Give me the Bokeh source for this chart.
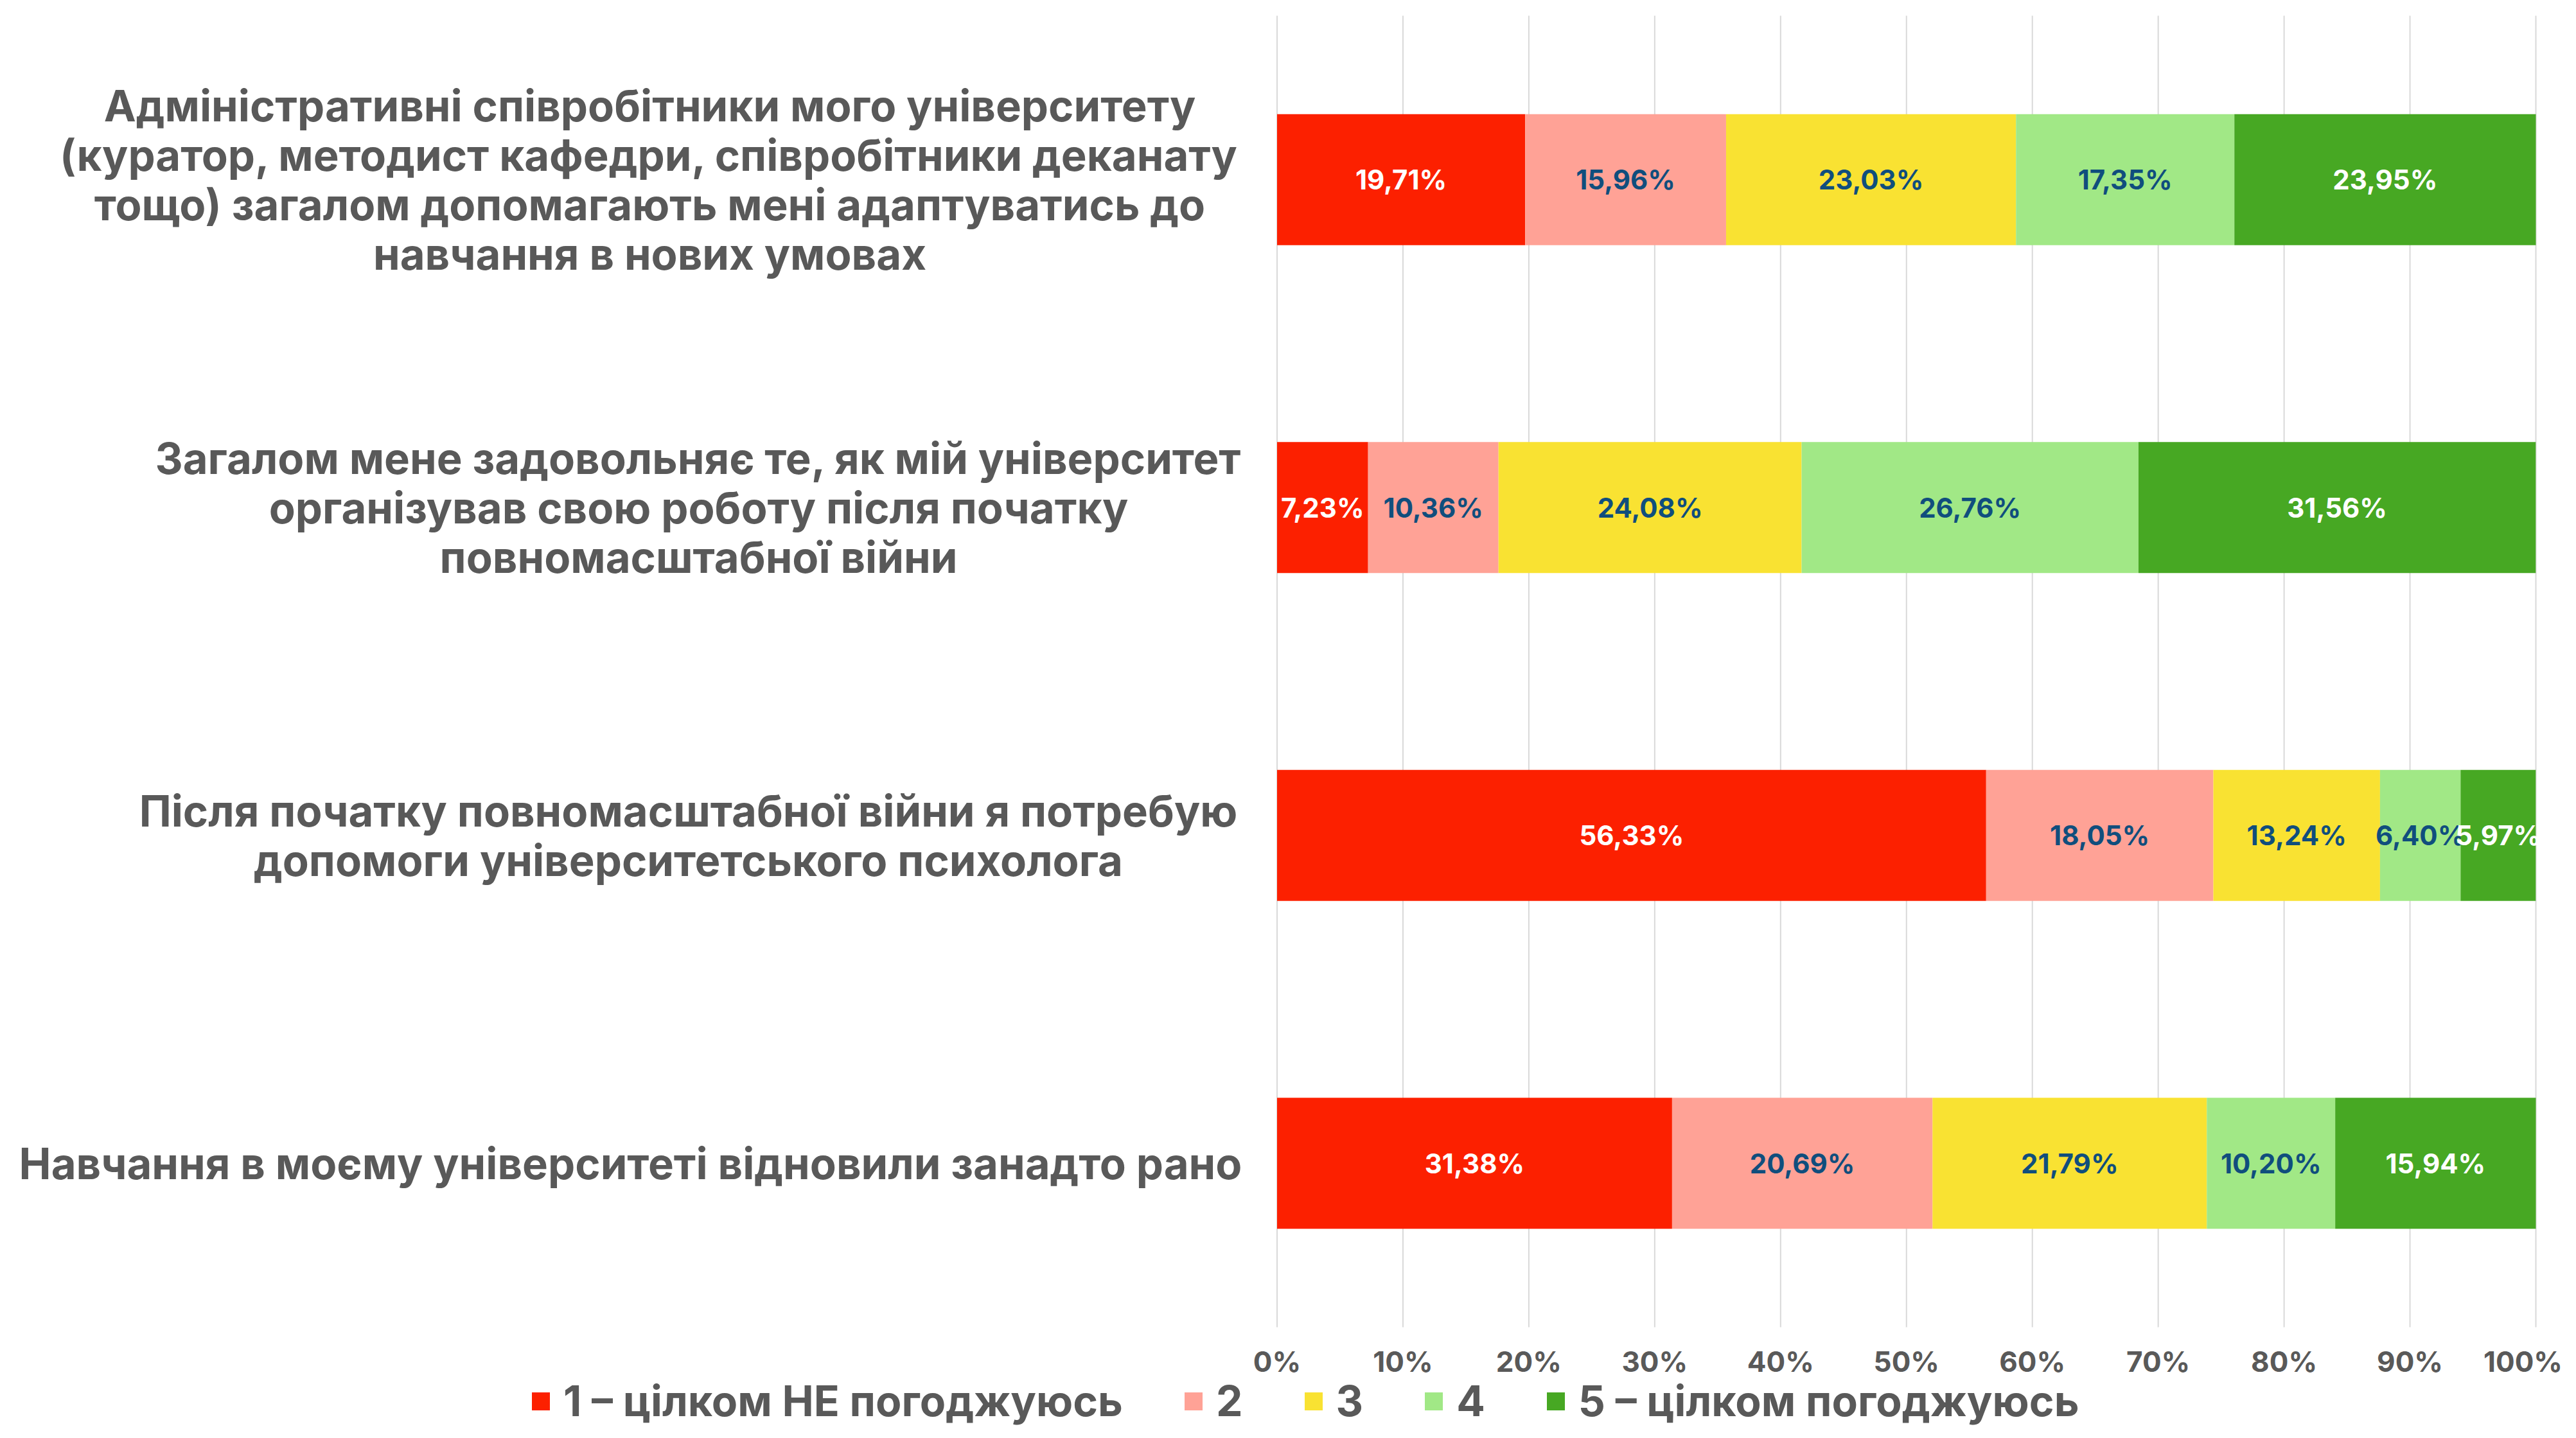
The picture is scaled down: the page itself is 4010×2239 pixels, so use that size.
from bokeh.plotting import figure
from bokeh.models import Range1d, Legend, LegendItem, ColumnDataSource
from bokeh.core.properties import value
from bokeh.embed import file_html
from bokeh.resources import INLINE

# ---------------- data ----------------
categories = [
    "Адміністративні співробітники мого університету\n(куратор, методист кафедри, співробітники деканату\nтощо) загалом допомагають мені адаптуватись до\nнавчання в нових умовах",
    "Загалом мене задовольняє те, як мій університет\nорганізував свою роботу після початку\nповномасштабної війни",
    "Після початку повномасштабної війни я потребую\nдопомоги університетського психолога",
    "Навчання в моєму університеті відновили занадто рано",
]
series_names = ["1 – цілком НЕ погоджуюсь", "2", "3", "4", "5 – цілком погоджуюсь"]
s1 = [19.71, 7.23, 56.33, 31.38]
s2 = [15.96, 10.36, 18.05, 20.69]
s3 = [23.03, 24.08, 13.24, 21.79]
s4 = [17.35, 26.76, 6.40, 10.20]
s5 = [23.95, 31.56, 5.97, 15.94]
tick_values = [0, 10, 20, 30, 40, 50, 60, 70, 80, 90, 100]
tick_labels = ["0%", "10%", "20%", "30%", "40%", "50%", "60%", "70%", "80%", "90%", "100%"]

# ---------------- style / layout ----------------
colors = ["#FC2000", "#FFA296", "#F9E232", "#A1E886", "#47A823"]
label_colors = ["#FFFFFF", "#104E7D", "#104E7D", "#104E7D", "#FFFFFF"]
FONT = "Inter"
GREY = "#595959"
label_centers_px = [1011, 1087, 1071, 981]  # centre of each category label block (px)
tick_label_offsets = [0, 0, 0, 0, 0, 0, 0, 0, 0, 0, -20]  # keep "100%" inside the canvas

W, H = 3994, 2223
X0_PX, PX_PER_PCT = 1987.5, 19.595        # 0% position and scale
TOP_PX, BOT_PX = 24, 2066                 # plot band extent
band = (BOT_PX - TOP_PX) / len(categories)

p = figure(
    width=W, height=H, output_backend="svg", toolbar_location=None,
    x_range=Range1d(-X0_PX / PX_PER_PCT, (W - X0_PX) / PX_PER_PCT),
    y_range=Range1d(-(H - BOT_PX) / band, len(categories) + TOP_PX / band),
    x_axis_location=None, y_axis_location=None,
    min_border_left=0, min_border_right=0, min_border_top=0, min_border_bottom=0,
    outline_line_color=None,
)
p.grid.visible = False
p.extra_x_ranges = {"px": Range1d(0, W)}
p.extra_y_ranges = {"py": Range1d(H, 0)}

n = len(categories)
ypos = [n - 0.5 - i for i in range(n)]  # first category at top

# gridlines
p.segment(x0=tick_values, x1=tick_values, y0=[0] * len(tick_values), y1=[n] * len(tick_values),
          line_color="#D9D9D9", line_width=2)
# tick labels
tick_src = ColumnDataSource(dict(x=tick_values, y=[2119] * len(tick_values), text=tick_labels,
                                 xo=tick_label_offsets))
p.text(x="x", y="y", text="text", x_offset="xo", source=tick_src, y_range_name="py",
       text_align="center", text_baseline="middle", text_font=value(FONT),
       text_font_style="bold", text_font_size="44px", text_color=GREY)

series = [s1, s2, s3, s4, s5]
left = [0.0] * n
renderers = []
for i, s in enumerate(series):
    right = [l + v for l, v in zip(left, s)]
    src = ColumnDataSource(dict(
        y=ypos, left=left, right=right,
        mid=[(l + r) / 2 for l, r in zip(left, right)],
        txt=[("%.2f%%" % v).replace(".", ",") for v in s],
    ))
    r = p.hbar(y="y", left="left", right="right", height=0.4, source=src,
               fill_color=colors[i], line_color=None)
    renderers.append(r)
    p.text(x="mid", y="y", text="txt", source=src, text_align="center", text_baseline="middle",
           text_font=value(FONT), text_font_style="bold", text_font_size="42px",
           text_color=label_colors[i])
    left = right

# category labels
lab_src = ColumnDataSource(dict(x=label_centers_px, y=ypos, text=categories))
p.text(x="x", y="y", text="text", source=lab_src, x_range_name="px",
       text_align="center", text_baseline="middle",
       text_font=value(FONT), text_font_style="bold", text_font_size="67px",
       text_color=GREY, text_line_height=0.95)

legend = Legend(
    items=[LegendItem(label=nm, renderers=[r]) for nm, r in zip(series_names, renderers)],
    orientation="horizontal", location=(824, 2),
    glyph_width=35, glyph_height=35, label_standoff=18, spacing=92,
    padding=0, margin=0, border_line_color=None, background_fill_alpha=0,
    label_text_font=FONT, label_text_font_style="bold", label_text_font_size="66px",
    label_text_color=GREY,
)
p.add_layout(legend)

open("out.html", "w").write(file_html(p, INLINE))
